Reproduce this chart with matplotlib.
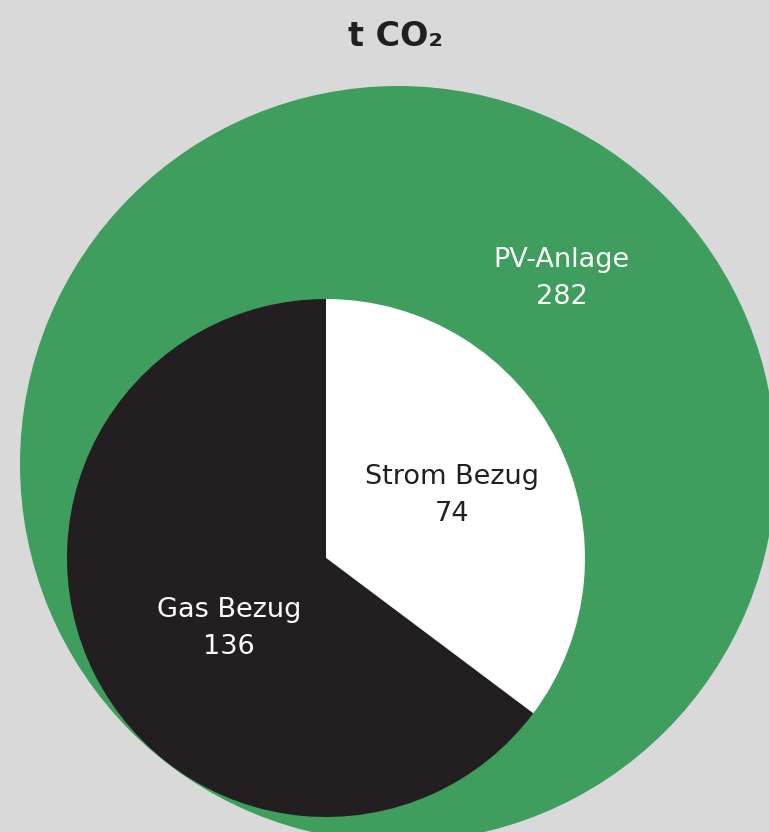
import matplotlib
matplotlib.use("Agg")
import matplotlib.pyplot as plt

# outer circle: PV-Anlage, inner pie: Strom / Gas Bezug (t CO2)
outer_label = "PV-Anlage"
outer_value = 282
inner_labels = ["Strom Bezug", "Gas Bezug"]
inner_values = [74, 136]

bg = "#d9d9d9"
green = "#3f9d5e"
dark = "#231f20"

plt.rcParams['font.family'] = ['DejaVu Sans']

W, H = 769, 832
fig = plt.figure(figsize=(W / 100, H / 100), dpi=100, facecolor=bg)
ax = fig.add_axes([0, 0, 1, 1])
ax.set_facecolor(bg)

# big green circle (pixel coords, y measured from bottom)
ax.pie([outer_value], colors=[green], radius=378, center=(398, H - 464),
       wedgeprops=dict(linewidth=0), frame=True)

# inner pie
ax.pie(inner_values, colors=["white", dark], radius=259, center=(326, H - 558),
       startangle=90, counterclock=False, wedgeprops=dict(linewidth=0), frame=True)

ax.set_xlim(0, W)
ax.set_ylim(0, H)
ax.set_aspect('equal')
ax.axis('off')


def label(x, y_top, name, value, color):
    # two lines, baselines in pixel rows from the top
    ax.text(x, H - y_top, name, color=color, fontsize=19.5,
            ha='center', va='baseline')
    ax.text(x, H - y_top - 37, str(value), color=color, fontsize=19.5,
            ha='center', va='baseline')


label(562, 267, outer_label, outer_value, "white")
label(452, 484, inner_labels[0], inner_values[0], dark)
label(229, 617, inner_labels[1], inner_values[1], "white")

fig.text(396 / W, 1 - 46 / H, "t CO₂", ha='center', va='baseline', fontsize=24,
         fontweight='bold', color=dark)

fig.savefig("out.png", dpi=100, facecolor=bg)
